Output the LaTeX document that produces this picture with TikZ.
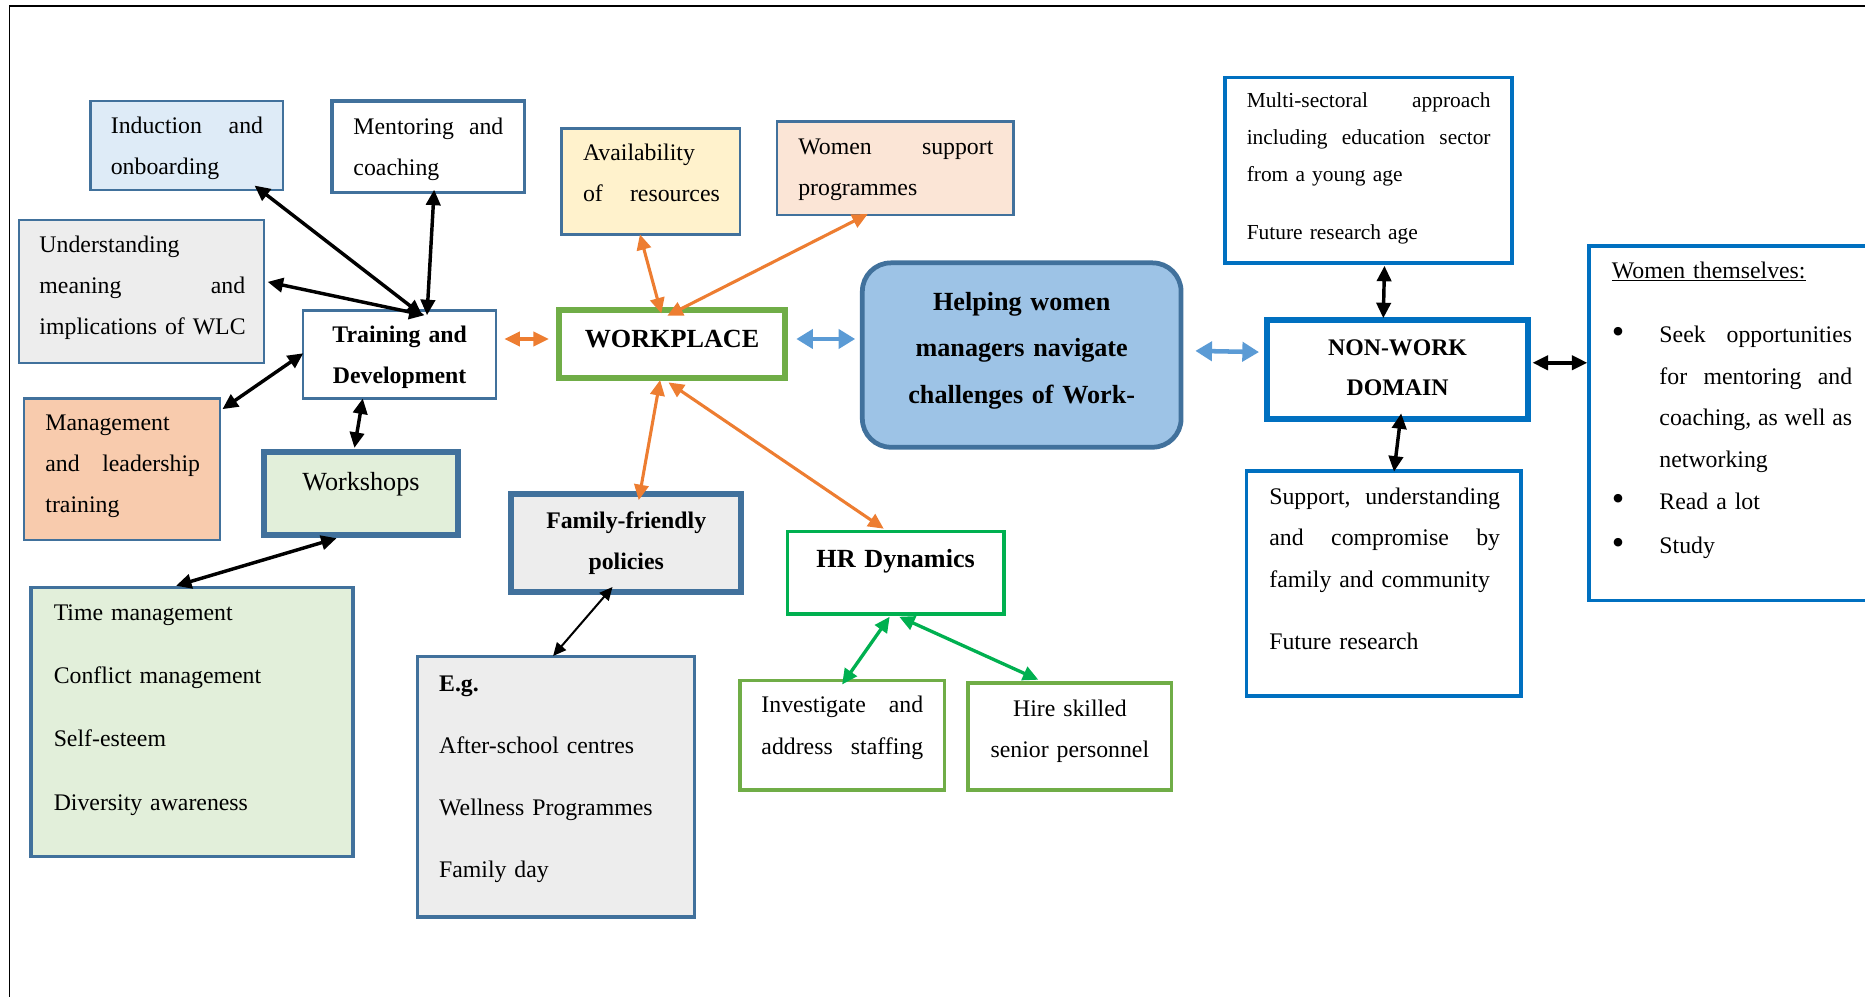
\documentclass[tikz,border=0pt]{standalone}
\usepackage{fontspec}
\usepackage{graphicx}
\setmainfont{Liberation Serif}
\usetikzlibrary{arrows.meta}

\definecolor{steel}{HTML}{41719C}
\definecolor{lblue}{HTML}{DEEBF7}
\definecolor{lgrey}{HTML}{EDEDED}
\definecolor{peach}{HTML}{F8CBAD}
\definecolor{lgreen}{HTML}{E2EFDA}
\definecolor{lyellow}{HTML}{FFF2CC}
\definecolor{lpeach}{HTML}{FBE5D6}
\definecolor{wgreen}{HTML}{70AD47}
\definecolor{hgreen}{HTML}{00B050}
\definecolor{hblue}{HTML}{9DC3E6}
\definecolor{nblue}{HTML}{0070C0}
\definecolor{aorange}{HTML}{ED7D31}
\definecolor{ablue}{HTML}{5B9BD5}

\newcommand{\bulletmark}{\makebox[40pt][l]{\raisebox{-1pt}{\scalebox{1.5}{\textbullet}}}}

\begin{document}
\begin{tikzpicture}[x=1pt,y=-1pt,
  box/.style={draw=steel, line width=2pt, inner sep=0pt},
  txt/.style={inner sep=0pt, align=left, anchor=base west,
              font=\fontsize{20pt}{34.5pt}\selectfont},
  ctxt/.style={inner sep=0pt, align=center, anchor=base,
               font=\fontsize{20pt}{34.5pt}\selectfont},
  btxt/.style={inner sep=0pt, align=center, anchor=base,
               font=\fontsize{20pt}{34.5pt}\selectfont\bfseries},
  bigtxt/.style={inner sep=0pt, align=center, anchor=base,
               font=\fontsize{22pt}{39pt}\selectfont\bfseries},
  blk/.style={line width=2.9pt, draw=black, >={Triangle[length=13pt,width=12pt]}, <->},
  org/.style={line width=2.6pt, draw=aorange, >={Triangle[length=13pt,width=12pt]}, <->},
  grn/.style={line width=2.8pt, draw=hgreen, >={Triangle[length=13pt,width=12pt]}, <->},
  blu/.style={line width=3.8pt, draw=ablue, >={Triangle[length=14pt,width=16pt]}, <->}
]
\clip (0,0) rectangle (1568,838);

% page frame
\draw[line width=1.5pt] (8,850) -- (8,5) -- (1580,5);

% ---- training and development cluster ----
\node[box, fill=lblue, minimum width=162pt, minimum height=75pt] (ind) at (157,122.5) {};
\node[txt, text width=128pt] (indT) at (93,112) {Induction\hfill and\\onboarding};

\node[box, line width=3pt, minimum width=162pt, minimum height=77pt] (men) at (360,123.5) {};
\node[txt, text width=126pt] (menT) at (297,113) {Mentoring\hfill and\\coaching};

\node[box, fill=lgrey, minimum width=206pt, minimum height=120pt] (und) at (119,245) {};
\node[txt, text width=173pt] (undT) at (33,212) {Understanding\\meaning\hfill and\\\mbox{implications of WLC}};

\node[box, minimum width=162pt, minimum height=74pt] (trn) at (336,298) {};
\node[btxt, text width=160pt] (trnT) at (336,288) {Training and\\Development};

\node[box, fill=peach, minimum width=165pt, minimum height=119pt] (mgt) at (102.5,394.5) {};
\node[txt, text width=130pt] (mgtT) at (38,362) {Management\\and\hfill leadership\\training};

\node[box, line width=5pt, fill=lgreen, minimum width=163pt, minimum height=70pt] (wks) at (303.5,415) {};
\node[ctxt, font=\fontsize{22pt}{26pt}\selectfont, text width=160pt] (wksT) at (303.5,412) {Workshops};

\node[box, line width=3pt, fill=lgreen, minimum width=271pt, minimum height=226pt] (tm) at (161.5,607) {};
\node[txt, text width=240pt, font=\fontsize{20pt}{53pt}\selectfont] (tmT) at (45,522)
  {Time management\\Conflict management\\Self-esteem\\Diversity awareness};

% ---- workplace cluster ----
\node[box, line width=5pt, draw=wgreen, minimum width=190pt, minimum height=57pt] (wp) at (565,289.5) {};
\node[bigtxt, text width=188pt] (wpT) at (565,292) {WORKPLACE};

\node[box, fill=lyellow, minimum width=150pt, minimum height=89pt] (av) at (547,152.5) {};
\node[txt, text width=115pt] (avT) at (490,135) {Availability\\of\hfill resources};

\node[box, fill=lpeach, minimum width=199pt, minimum height=79pt] (wsup) at (752.5,141.5) {};
\node[txt, text width=164pt] (wsupT) at (671,130) {Women\hfill support\\programmes};

\node[box, line width=5pt, fill=lgrey, minimum width=193pt, minimum height=83pt] (ff) at (526.5,456.5) {};
\node[btxt, text width=190pt, font=\fontsize{20pt}{35pt}\selectfont\bfseries] (ffT) at (526.5,444) {Family-friendly\\policies};

\node[box, line width=3pt, fill=lgrey, minimum width=233pt, minimum height=219pt] (eg) at (467.5,661.5) {};
\node[txt, text width=210pt, font=\fontsize{20pt}{52.3pt}\selectfont] (egT) at (369,581)
  {\textbf{E.g.}\\After-school centres\\Wellness Programmes\\Family day};

\node[box, line width=3pt, draw=hgreen, minimum width=182pt, minimum height=69pt] (hr) at (753,481.5) {};
\node[bigtxt, text width=180pt] (hrT) at (753,477) {HR Dynamics};

\node[box, line width=3pt, draw=wgreen, minimum width=172pt, minimum height=92pt] (inv) at (708,618) {};
\node[txt, text width=136pt, font=\fontsize{20pt}{35pt}\selectfont] (invT) at (640,599) {Investigate\hfill and\\address\hfill staffing};

\node[box, line width=3pt, draw=wgreen, minimum width=171pt, minimum height=90pt] (hire) at (899.5,619) {};
\node[ctxt, text width=168pt, font=\fontsize{20pt}{35pt}\selectfont] (hireT) at (899.5,602) {Hire skilled\\senior personnel};

% ---- central goal ----
\node[box, line width=4pt, fill=hblue, rounded corners=24pt, minimum width=268pt, minimum height=155pt] (help) at (859,298.5) {};
\node[bigtxt, text width=266pt] (helpT) at (859,261) {Helping women\\managers navigate\\challenges of Work-};

% ---- non-work domain cluster ----
\node[box, line width=3pt, draw=nblue, minimum width=241pt, minimum height=156pt] (ms) at (1150.5,143) {};
\node[txt, text width=205pt, font=\fontsize{18pt}{31pt}\selectfont] (msT) at (1048,90.5)
  {Multi-sectoral\hfill approach\\including\hfill education\hfill sector\\from a young age\\[18pt]Future research age};

\node[box, line width=5pt, draw=nblue, minimum width=220pt, minimum height=83pt] (nw) at (1175,310.5) {};
\node[btxt, text width=218pt, font=\fontsize{20pt}{34pt}\selectfont\bfseries] (nwT) at (1175,298.5) {NON-WORK\\DOMAIN};

\node[box, line width=3pt, draw=nblue, minimum width=231pt, minimum height=189pt] (sup) at (1163.5,490.5) {};
\node[txt, text width=194pt, font=\fontsize{20pt}{35pt}\selectfont] (supT) at (1067,424)
  {Support,\hfill understanding\\and\hfill compromise\hfill by\\family and community\\[17pt]Future research};

\node[box, line width=3pt, draw=nblue, minimum width=254pt, minimum height=298pt] (wt) at (1463,356) {};
\node[txt, text width=202pt, font=\fontsize{20pt}{35pt}\selectfont] (wtT) at (1355,234)
  {\underline{Women themselves:}\\[19pt]
   \bulletmark Seek\hfill opportunities\\
   \hspace*{40pt}for\hfill mentoring\hfill and\\
   \hspace*{40pt}coaching,\hfill as\hfill well\hfill as\\
   \hspace*{40pt}networking\\
   \bulletmark Read a lot\\[2pt]
   \bulletmark Study};

% ---- connectors: training and development ----
\draw[blk] ([xshift=57pt,yshift=5pt]ind.south) -- ([xshift=19pt,yshift=-5pt]trn.north);
\draw[blk] ([xshift=5pt,yshift=4pt]men.south) -- ([xshift=23pt,yshift=-5pt]trn.north);
\draw[blk] ([xshift=2pt,yshift=8pt]und.east) -- ([xshift=21pt,yshift=-5pt]trn.north);
\draw[blk] ([xshift=1pt,yshift=-10pt]mgt.north east) -- ([xshift=1pt,yshift=1pt]trn.west);
\draw[blk] ([xshift=-31pt,yshift=1pt]trn.south) -- ([xshift=-5.5pt,yshift=1pt]wks.north);
\draw[blk] ([xshift=-20.5pt]wks.south) -- ([xshift=-13.5pt]tm.north);

% ---- connectors: workplace ----
\draw[org] ([xshift=6pt,yshift=13pt]trn.east) -- ([xshift=-6pt,yshift=4.5pt]wp.west);
\draw[org] ([xshift=-9pt,yshift=-5pt]wp.north) -- ([xshift=-9pt,yshift=1pt]av.south);
\draw[org] ([xshift=-4pt,yshift=-7pt]wp.north) -- ([xshift=-23pt,yshift=2pt]wsup.south);
\draw[org] ([xshift=-10pt,yshift=1pt]wp.south) -- ([xshift=10.5pt,yshift=-8pt]ff.north);
\draw[org] ([xshift=-3pt,yshift=-1pt]wp.south) -- ([xshift=-10pt,yshift=1pt]hr.north);
\draw[blk, line width=1.7pt, >={Triangle[length=11pt,width=10pt]}] ([xshift=-11.5pt,yshift=7pt]ff.south) -- ([xshift=-2.5pt,yshift=-1pt]eg.north);
\draw[grn] ([xshift=-5pt,yshift=-1pt]hr.south) -- ([yshift=-5pt]inv.north);
\draw[grn] ([xshift=3pt,yshift=-1pt]hr.south) -- ([xshift=-26.5pt,yshift=1pt]hire.north);

% ---- connectors: goal ----
\draw[blu] ([xshift=7pt,yshift=4.5pt]wp.east) -- ([xshift=-4pt,yshift=13.5pt]help.west);
\draw[blu] ([xshift=10pt,yshift=3.5pt]help.east) -- ([xshift=-4pt,yshift=14.5pt]nw.west);

% ---- connectors: non-work domain ----
\draw[blk] ([xshift=13.5pt,yshift=-1pt]ms.south) -- ([xshift=-12pt,yshift=-1pt]nw.north);
\draw[blk] ([xshift=3pt,yshift=7pt]nw.south) -- ([xshift=8.5pt,yshift=-2pt]sup.north);
\draw[blk] ([xshift=1pt,yshift=5.5pt]nw.east) -- ([yshift=51pt]wt.west);
\end{tikzpicture}
\end{document}
